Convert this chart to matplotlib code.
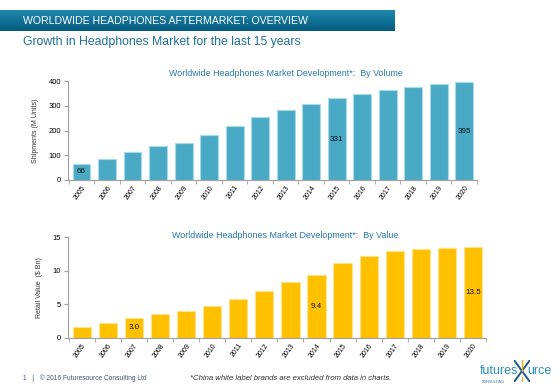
import matplotlib.pyplot as plt
import numpy as np
from matplotlib.colors import LinearSegmentedColormap

plt.rcParams['font.family'] = ['Liberation Sans', 'DejaVu Sans']

years = [str(y) for y in range(2005, 2021)]
volume = [66, 86, 114, 137, 151, 182, 217, 255, 284, 308, 331, 349, 362, 376, 388, 395]
value = [1.7, 2.3, 3.0, 3.5, 4.0, 4.8, 5.8, 7.0, 8.3, 9.4, 11.1, 12.2, 12.9, 13.2, 13.4, 13.5]
volume_labelled = ['2005', '2015', '2020']
value_labelled = ['2007', '2014', '2020']

W, H = 560, 390


def fx(px):
    return px / W


def fy(py):
    return 1 - py / H


def draw_panel(ax, vals, color, edge, ymax, yticks, labelled, fmt, ylabel):
    x = np.arange(len(years))
    ax.bar(x, vals, width=0.7, color=color, edgecolor=edge, linewidth=0.8)
    for i, yr in enumerate(years):
        if yr in labelled:
            ax.text(x[i], vals[i] / 2, fmt.format(vals[i]), ha='center', va='center',
                    fontsize=5.8, color='#111111')
    ax.set_xlim(-0.53, len(years) - 0.5)
    ax.set_ylim(0, ymax)
    ax.set_yticks(yticks)
    ax.set_xticks(x)
    ax.set_xticklabels(years, rotation=55, ha='right', rotation_mode='anchor', fontsize=5)
    ax.set_xticks(np.arange(-0.5, len(years)), minor=True)
    ax.tick_params(axis='x', which='major', length=0, pad=3)
    ax.tick_params(axis='x', which='minor', length=3, color='#a0a0a0')
    ax.tick_params(axis='y', length=3, color='#a0a0a0', labelsize=5.5, pad=2)
    for s in ['top', 'right']:
        ax.spines[s].set_visible(False)
    for s in ['left', 'bottom']:
        ax.spines[s].set_color('#a0a0a0')
        ax.spines[s].set_linewidth(0.8)
    ax.set_ylabel(ylabel, fontsize=5, color='#333333', labelpad=7)


fig = plt.figure(figsize=(5.6, 3.9), dpi=100)

# header bar with gradient
hax = fig.add_axes([0, fy(31), fx(395), 21 / H])
grad = np.linspace(0, 1, 50).reshape(-1, 1)
cmap = LinearSegmentedColormap.from_list('hdr', ['#2089b0', '#055b80'])
hax.imshow(grad, aspect='auto', cmap=cmap, extent=[0, 1, 0, 1])
hax.axis('off')
fig.text(fx(23), fy(20.5), 'WORLDWIDE HEADPHONES AFTERMARKET: OVERVIEW', color='white',
         fontsize=7.6, va='center', ha='left')
fig.text(fx(23), fy(42), 'Growth in Headphones Market for the last 15 years', color='#1f6f96',
         fontsize=8.8, va='center', ha='left')

# volume chart
ax1 = fig.add_axes([fx(68), fy(180), fx(477 - 68), (180 - 81) / H])
draw_panel(ax1, volume, '#4aaac5', '#a8dbe8', 400, [0, 100, 200, 300, 400],
           volume_labelled, '{:.0f}', 'Shipments (M Units)')
fig.text(fx(286), fy(73), 'Worldwide Headphones Market Development*:  By Volume',
         color='#2478ad', fontsize=6.4, ha='center', va='center')

# value chart
ax2 = fig.add_axes([fx(68), fy(338), fx(486 - 68), (338 - 237) / H])
draw_panel(ax2, value, '#ffc000', '#ffe28a', 15, [0, 5, 10, 15],
           value_labelled, '{:.1f}', 'Retail Value  ($ Bn)')
fig.text(fx(285), fy(235), 'Worldwide Headphones Market Development*:  By Value',
         color='#2478ad', fontsize=6.4, ha='center', va='center')

# footer
fig.text(fx(23), fy(378), '1   |   \u00a9 2016 Futuresource Consulting Ltd', color='#3a5a78',
         fontsize=4.8, va='center')
fig.text(fx(190), fy(379), '*China white label brands are excluded from data in charts.',
         color='#333333', fontsize=5.6, style='italic', va='center')

# logo
lax = fig.add_axes([fx(514), fy(382), fx(16), 22 / H])
lax.plot([0, 1], [0, 1], color='#1b5a8a', lw=1.4)
lax.plot([0, 1], [1, 0], color='#1b5a8a', lw=1.4)
lax.plot([0.5, 0.5], [0.5, 1.0], color='#f0b000', lw=1.0)
lax.plot([0.5, 0.5], [0.0, 0.25], color='#f0b000', lw=0.8)
lax.set_xlim(0, 1)
lax.set_ylim(0, 1)
lax.axis('off')
fig.text(fx(480), fy(371), 'futures', color='#2a8fc0', fontsize=9, va='center', ha='left')
fig.text(fx(527), fy(371), 'urce', color='#2a8fc0', fontsize=9, va='center', ha='left')
fig.text(fx(482), fy(382), 'CONSULTING', color='#2a6a90', fontsize=2.6, va='center', ha='left')

fig.savefig('out.png', dpi=100)
